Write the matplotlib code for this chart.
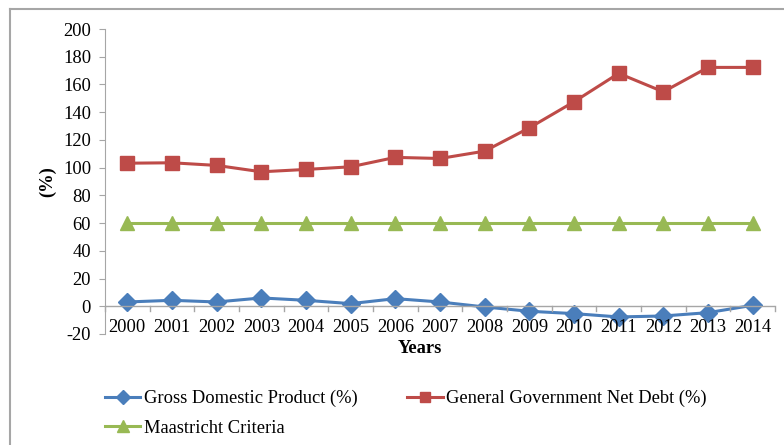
import matplotlib.pyplot as plt
from matplotlib.lines import Line2D

plt.rcParams['font.family'] = ['Liberation Serif', 'DejaVu Serif']

years = ['2000', '2001', '2002', '2003', '2004', '2005', '2006', '2007',
         '2008', '2009', '2010', '2011', '2012', '2013', '2014']
gdp = [3.1, 4.3, 3.1, 6.0, 4.3, 1.9, 5.5, 3.1, -0.5, -3.6, -5.3, -7.7, -7.0, -4.6, 0.7]
net_debt = [103.2, 103.5, 101.6, 97.0, 98.7, 100.6, 107.4, 106.6, 111.9,
            128.7, 147.5, 168.0, 154.7, 172.3, 172.3]
maastricht = [60] * len(years)

yticks = list(range(-20, 201, 20))

blue = '#4A7EBB'
red = '#BE4B48'
green = '#98B954'
grey = '#A6A6A6'
fs = 13.3

fig = plt.figure(figsize=(7.84, 4.45), dpi=100)
ax = fig.add_axes([105 / 784, 1 - 334 / 445, (775 - 105) / 784, (334 - 29) / 445])

x = list(range(len(years)))
ax.plot(x, gdp, color=blue, lw=2.2, marker='D', ms=9, label='Gross Domestic Product (%)')
ax.plot(x, net_debt, color=red, lw=2.2, marker='s', ms=10, label='General Government Net Debt (%)')
ax.plot(x, maastricht, color=green, lw=2.2, marker='^', ms=10, label='Maastricht Criteria')

ax.set_xlim(-0.5, len(years) - 0.5)
ax.set_ylim(-20, 200)
ax.set_yticks(yticks)
ax.set_yticklabels([str(v) for v in yticks], fontsize=fs)

# category axis crossing at zero, labels kept at the bottom
ax.set_xticks([])
for i, lab in enumerate(years):
    ax.text(i, -15.5, lab, ha='center', va='center', fontsize=fs)
ax.axhline(0, color=grey, lw=1)
for b in [i - 0.5 for i in range(len(years) + 1)]:
    ax.plot([b, b], [0, -3.5], color=grey, lw=1, clip_on=False)

for side in ['top', 'right', 'bottom']:
    ax.spines[side].set_visible(False)
ax.spines['left'].set_color(grey)
ax.tick_params(axis='y', length=4, color=grey, pad=6)

ax.text(6.55, -30.5, 'Years', ha='center', va='center', fontsize=fs, fontweight='bold')
ax.set_ylabel('(%)', fontsize=fs, fontweight='bold', labelpad=5)

handles = [Line2D([0], [0], color=blue, lw=2.2, marker='D', ms=7),
           Line2D([0], [0], color=red, lw=2.2, marker='s', ms=7),
           Line2D([0], [0], color=green, lw=2.2, marker='^', ms=8)]
labels = ['Gross Domestic Product (%)', 'General Government Net Debt (%)', 'Maastricht Criteria']
fig.legend([handles[0], handles[2], handles[1]], [labels[0], labels[2], labels[1]],
           ncol=2, loc='upper left', bbox_to_anchor=(105 / 784, 1 - 390 / 445),
           frameon=False, fontsize=fs, handlelength=1.9, handletextpad=0.2,
           columnspacing=2.7, labelspacing=0.68, borderpad=0, borderaxespad=0)

# outer chart frame (left and top edges)
fig.add_artist(Line2D([10 / 784, 10 / 784], [0, 1 - 9 / 445], color=grey, lw=1.5,
                      transform=fig.transFigure))
fig.add_artist(Line2D([10 / 784, 1], [1 - 9 / 445, 1 - 9 / 445], color=grey, lw=1.5,
                      transform=fig.transFigure))

fig.savefig('out.png', dpi=100)
